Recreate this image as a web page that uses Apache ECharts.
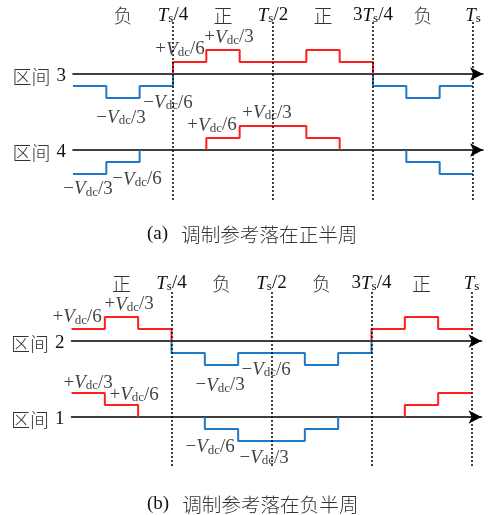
<!DOCTYPE html>
<html>
<head>
<meta charset="utf-8">
<script src="https://cdn.jsdelivr.net/npm/echarts@6/dist/echarts.min.js"></script>
<style>
  html, body { margin: 0; padding: 0; background: #fff; }
  #chart { width: 489px; height: 515px; }
</style>
</head>
<body>
<div id="chart"></div>
<script>
// One switching period Ts split into 12 equal slots; levels in units of Vdc/6.
const region3 = [-1, -2, -1, 1, 2, 1, 1, 2, 1, -1, -2, -1];
const region4 = [-2, -1, 0, 0, 1, 2, 2, 1, 0, 0, -1, -2];
const region2 = [1, 2, 1, -1, -2, -1, -1, -2, -1, 1, 2, 1];
const region1 = [2, 1, 0, 0, -1, -2, -2, -1, 0, 0, 1, 2];
const regionNames = ['3', '4', '2', '1'];

// Header ticks (slot units) for the two panels
const headerA = { 1.5: 'neg', 3: 'q1', 4.5: 'pos', 6: 'q2', 7.5: 'pos', 9: 'q3', 10.5: 'neg', 12: 'q4' };
const headerB = { 1.5: 'pos', 3: 'q1', 4.5: 'neg', 6: 'q2', 7.5: 'neg', 9: 'q3', 10.5: 'pos', 12: 'q4' };
const quarterMarks = [3, 6, 9, 12];

// Level annotations: [slot, level-axis anchor, level stated]
const notes3 = [[3.21, 2.25, 1], [4.68, 3.25, 2], [2.85, -2.17, -1], [1.44, -3.42, -2]];
const notes4 = [[4.17, 2.25, 1], [5.82, 3.33, 2], [0.45, -3.08, -2], [1.92, -2.25, -1]];
const notes2 = [[0.17, 2.17, 1], [1.73, 3.25, 2], [4.46, -3.5, -2], [5.84, -2.17, -1]];
const notes1 = [[0.5, 3.08, 2], [1.88, 2.08, 1], [4.16, -2.33, -1], [5.78, -3.17, -2]];

const captionA = ['(a)', '调制参考落在正半周'];
const captionB = ['(b)', '调制参考落在负半周'];

const RED = '#ff1f1f', BLUE = '#1f78c8';
const SERIF = 'Liberation Serif', CJK = 'Noto Sans CJK SC';
const XMAX = 12.3, UNIT = 400 / 12;

const rich = {
  cn: { fontFamily: CJK, fontSize: 19, fontWeight: 300, color: '#333', lineHeight: 24, verticalAlign: 'bottom' },
  n:  { fontFamily: SERIF, fontSize: 19, fontWeight: 'normal', color: '#111', lineHeight: 24, verticalAlign: 'bottom' },
  t:  { fontFamily: SERIF, fontSize: 19, fontWeight: 'normal', color: '#111', lineHeight: 24, verticalAlign: 'bottom', fontStyle: 'italic' },
  s:  { fontFamily: SERIF, fontSize: 13, fontWeight: 'normal', color: '#111', lineHeight: 12, verticalAlign: 'bottom' },
  gap: { fontFamily: SERIF, fontSize: 19, fontWeight: 'normal', color: '#111', lineHeight: 24, verticalAlign: 'bottom', padding: [0, 0, 0, 6] },
  cap: { fontFamily: CJK, fontSize: 19.6, fontWeight: 300, color: '#333', lineHeight: 24, verticalAlign: 'bottom', padding: [0, 0, 0, 13] }
};

function headerText(code) {
  switch (code) {
    case 'neg': return '{cn|负}';
    case 'pos': return '{cn|正}';
    case 'q1': return '{t|T}{s|s}{n|/4}';
    case 'q2': return '{t|T}{s|s}{n|/2}';
    case 'q3': return '{n|3}{t|T}{s|s}{n|/4}';
    case 'q4': return '{t|T}{s|s}';
  }
  return '';
}

function levelText(level) {
  const sign = level > 0 ? '+' : '\u2212';
  const den = Math.abs(level) === 1 ? '6' : '3';
  return '{n|' + sign + '}{t|V}{s|dc}{n|/' + den + '}';
}

// Split a level sequence into same-sign runs drawn as step polylines
function stepRuns(levels) {
  const out = [];
  let cur = null;
  for (let i = 0; i < levels.length; i++) {
    const v = levels[i], sg = Math.sign(v);
    if (cur && cur.sign !== sg) { cur.pts.push([i, 0]); out.push(cur); cur = null; }
    if (sg !== 0) {
      if (!cur) cur = { sign: sg, pts: i > 0 ? [[i, 0]] : [] };
      cur.pts.push([i, v], [i + 1, v]);
    }
  }
  if (cur) out.push(cur);
  return out;
}

const regions = [
  { levels: region3, notes: notes3, left: 73, mid: 74 },
  { levels: region4, notes: notes4, left: 73, mid: 150 },
  { levels: region2, notes: notes2, left: 71.5, mid: 341 },
  { levels: region1, notes: notes1, left: 71.5, mid: 417 }
];
const panels = [
  { ticks: headerA, left: 73, top: 22, height: 178 },
  { ticks: headerB, left: 71.5, top: 290, height: 176 }
];

const grid = [], xAxis = [], yAxis = [], series = [];

regions.forEach((r, g) => {
  grid.push({ left: r.left, top: r.mid - 48, width: XMAX * UNIT, height: 96 });
  xAxis.push({
    type: 'value', gridIndex: g, min: 0, max: XMAX,
    axisLine: { show: true, onZero: true, symbol: ['none', 'arrow'], symbolSize: [10, 13],
      lineStyle: { color: '#000', width: 1.6 } },
    axisTick: { show: false }, axisLabel: { show: false }, splitLine: { show: false }
  });
  yAxis.push({
    type: 'value', gridIndex: g, min: -4, max: 4, interval: 4,
    axisLine: { show: false }, axisTick: { show: false }, splitLine: { show: false },
    axisLabel: {
      margin: 7, rich: rich,
      formatter: v => (v === 0 ? '{cn|区间}{gap|' + regionNames[g] + '}' : '')
    }
  });
  stepRuns(r.levels).forEach(run => {
    series.push({
      type: 'line', xAxisIndex: g, yAxisIndex: g, data: run.pts,
      symbol: 'none', silent: true, animation: false,
      lineStyle: { color: run.sign > 0 ? RED : BLUE, width: 2 }
    });
  });
  series.push({
    type: 'scatter', xAxisIndex: g, yAxisIndex: g, data: r.notes,
    symbolSize: 1, itemStyle: { color: 'transparent' }, clip: false, silent: true, animation: false,
    label: {
      show: true, position: 'inside', color: '#111', rich: rich,
      formatter: p => levelText(p.value[2])
    }
  });
});

panels.forEach((p, k) => {
  const g = regions.length + k;
  grid.push({ left: p.left, top: p.top, width: XMAX * UNIT, height: p.height });
  xAxis.push({
    type: 'value', gridIndex: g, min: 0, max: XMAX, interval: 1.5, position: 'top',
    axisLine: { show: false }, axisTick: { show: false }, splitLine: { show: false },
    axisLabel: {
      margin: 9, verticalAlign: 'middle', rich: rich,
      formatter: v => headerText(p.ticks[v])
    }
  });
  yAxis.push({ type: 'value', gridIndex: g, min: 0, max: 1, show: false });
  series.push({
    type: 'line', xAxisIndex: g, yAxisIndex: g, data: [[0, 0]],
    symbol: 'none', showSymbol: false, silent: true, animation: false,
    lineStyle: { opacity: 0 },
    markLine: {
      silent: true, symbol: ['none', 'none'], animation: false,
      label: { show: false },
      lineStyle: { type: [2, 2], color: '#111', width: 1.6 },
      data: quarterMarks.map(x => ({ xAxis: x }))
    }
  });
});

const chart = echarts.init(document.getElementById('chart'), null, { renderer: 'canvas' });
chart.setOption({
  backgroundColor: '#fff',
  animation: false,
  title: [
    { text: '{n|' + captionA[0] + '}{cap|' + captionA[1] + '}', left: 147, top: 220, padding: 0,
      textStyle: { fontWeight: 'normal', rich: rich } },
    { text: '{n|' + captionB[0] + '}{cap|' + captionB[1] + '}', left: 147, top: 490, padding: 0,
      textStyle: { fontWeight: 'normal', rich: rich } }
  ],
  grid: grid,
  xAxis: xAxis,
  yAxis: yAxis,
  series: series
});
</script>
</body>
</html>
